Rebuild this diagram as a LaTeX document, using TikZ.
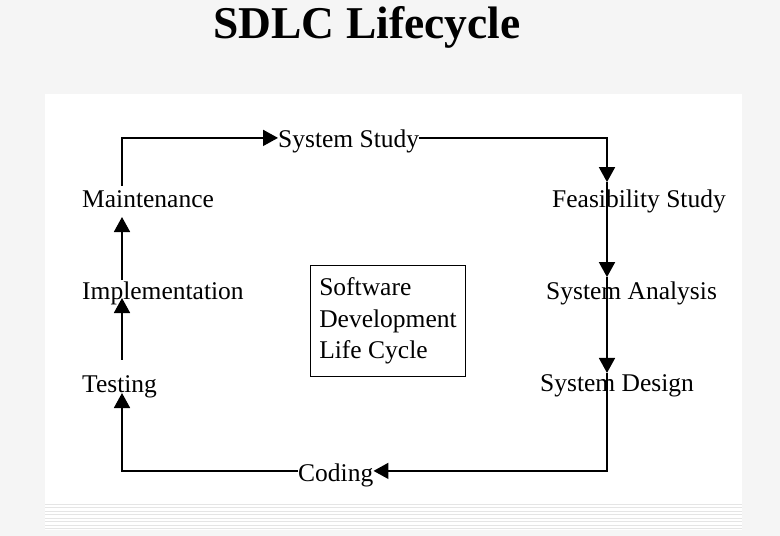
\documentclass[tikz,border=0pt]{standalone}
\usepackage{fontspec}
\setmainfont{Liberation Serif}
\usetikzlibrary{arrows.meta,positioning}

\begin{document}
\begin{tikzpicture}
[x=1pt,y=-1pt,
 stage/.style={inner sep=0pt,anchor=base west,font=\fontsize{25.5}{30.5}\selectfont},
 flow/.style={line width=1.8pt,-{Triangle[length=15pt,width=16pt]}}]
\useasboundingbox (0,0) rectangle (780,536);
\fill[black!4] (0,0) rectangle (780,536);
\fill[white] (45,94) rectangle (742,530);
\foreach \y in {504,507.5,...,530} \draw[black!10,line width=0.8pt] (45,\y) -- (742,\y);

\node[anchor=base,font=\fontsize{45.5}{54}\selectfont\bfseries] (title) at (367,38) {SDLC Lifecycle};

\coordinate (lcol) at (122,0);
\coordinate (rcol) at (607,0);

\node[stage] (study) at (278,147) {System Study};
\node[stage] (feas) at (552,207) {Feasibility Study};
\node[stage] (analysis) at (546,299) {System Analysis};
\node[stage] (design) at (540,391) {System Design};
\node[stage] (coding) at (298,481) {Coding};
\node[stage] (testing) at (82,392) {Testing};
\node[stage] (impl) at (82,299) {Implementation};
\node[stage] (maint) at (82,207) {Maintenance};

\node[stage,anchor=center,font=\fontsize{25.5}{31.5}\selectfont,draw,line width=1.3pt,align=left,inner xsep=9pt,minimum height=111pt] (sdlc) at (388,321) {Software\\Development\\Life Cycle};

\draw[flow] ([yshift=4pt]maint.north -| lcol) |- ([yshift=3pt]study.west);
\draw[flow] ([yshift=3pt]study.east) -| ([yshift=7pt]feas.north -| rcol);
\draw[flow] ([yshift=7pt]feas.north -| rcol) -- ([yshift=4pt]analysis.north -| rcol);
\draw[flow] ([yshift=4pt]analysis.north -| rcol) -- ([yshift=1pt]design.north -| rcol);
\draw[flow] ([yshift=1pt]design.north -| rcol) |- ([yshift=4pt]coding.east);
\draw[flow] ([yshift=4pt]coding.west) -| ([yshift=-1pt]testing.base -| lcol);
\draw[flow] ([yshift=15pt]testing.north -| lcol) -- ([yshift=1pt]impl.base -| lcol);
\draw[flow] ([yshift=1pt]impl.north -| lcol) -- ([yshift=-10pt]maint.base -| lcol);
\end{tikzpicture}
\end{document}
